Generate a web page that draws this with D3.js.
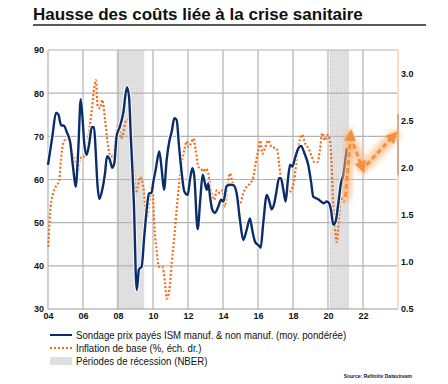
<!DOCTYPE html>
<html>
<head>
<meta charset="utf-8">
<script src="https://cdn.jsdelivr.net/npm/d3@7"></script>
<style>
  body { margin: 0; background: #fff; }
  svg { display: block; font-family: Arial, "Liberation Sans", sans-serif; }
</style>
</head>
<body>
<svg id="chart" width="448" height="384"></svg>
<script>
// ISM prix payés (moy. pondérée), échelle gauche
var ismDates = [2004.0, 2004.25, 2004.46, 2004.6, 2004.74, 2004.93, 2005.07, 2005.26, 2005.45, 2005.58, 2005.73, 2005.87, 2005.98, 2006.07, 2006.2, 2006.36, 2006.5, 2006.63, 2006.72, 2006.82, 2006.93, 2007.1, 2007.26, 2007.37, 2007.54, 2007.67, 2007.79, 2007.92, 2008.11, 2008.3, 2008.51, 2008.63, 2008.74, 2008.9, 2009.07, 2009.2, 2009.35, 2009.5, 2009.64, 2009.77, 2009.92, 2010.02, 2010.15, 2010.36, 2010.5, 2010.63, 2010.78, 2010.93, 2011.07, 2011.22, 2011.35, 2011.49, 2011.64, 2011.79, 2011.98, 2012.11, 2012.25, 2012.36, 2012.55, 2012.7, 2012.84, 2012.97, 2013.07, 2013.16, 2013.26, 2013.39, 2013.54, 2013.73, 2013.89, 2014.02, 2014.21, 2014.4, 2014.59, 2014.78, 2014.97, 2015.16, 2015.35, 2015.54, 2015.67, 2015.83, 2016.02, 2016.15, 2016.3, 2016.5, 2016.65, 2016.78, 2016.93, 2017.07, 2017.2, 2017.31, 2017.45, 2017.58, 2017.7, 2017.83, 2017.96, 2018.11, 2018.27, 2018.46, 2018.65, 2018.87, 2019.03, 2019.16, 2019.3, 2019.45, 2019.6, 2019.75, 2019.93, 2020.06, 2020.17, 2020.3, 2020.44, 2020.59, 2020.74, 2020.87, 2021.07];
var ismValues = [63.4, 70, 75.5, 75, 72.6, 72.4, 71, 68.8, 62.2, 58.3, 66.9, 78.6, 73.8, 68.4, 65.7, 68.4, 72.1, 72.1, 66.9, 59.2, 55.5, 57.6, 61.5, 65.4, 64.5, 62.7, 63.8, 70, 72.3, 75.4, 81.4, 79.2, 69.2, 55.3, 34.4, 39.2, 39.8, 46.8, 53, 56.8, 56.9, 59.5, 62.2, 66.5, 62.2, 57.6, 64.5, 68.8, 71.1, 74.2, 73.8, 67.6, 61.5, 57.2, 56.4, 59.9, 62.6, 60.7, 48.5, 55.3, 61.1, 59.1, 57.6, 59.1, 56, 53, 52.3, 53.7, 55.3, 54.9, 58.5, 58.8, 58.7, 56.8, 50.6, 46, 48.3, 51, 48.3, 45.6, 44.8, 44.2, 49.9, 56.4, 54.9, 53.1, 54.5, 57.6, 60.3, 60.3, 57.6, 54.9, 59.5, 63.4, 63, 64.9, 66.9, 67.8, 66.1, 63.4, 59.5, 56, 55.7, 55.4, 54.9, 54.5, 54.9, 54.5, 53, 49.5, 50.3, 54.5, 59.1, 61, 67.2];

// Inflation de base (%), échelle droite
var coreDates = [2004.02, 2004.15, 2004.3, 2004.5, 2004.63, 2004.74, 2004.87, 2005.07, 2005.26, 2005.45, 2005.58, 2005.7, 2005.83, 2006.02, 2006.2, 2006.34, 2006.5, 2006.65, 2006.74, 2006.84, 2006.97, 2007.1, 2007.26, 2007.41, 2007.58, 2007.73, 2007.87, 2008.02, 2008.17, 2008.3, 2008.44, 2008.59, 2008.74, 2008.9, 2009.01, 2009.13, 2009.26, 2009.45, 2009.64, 2009.83, 2009.96, 2010.07, 2010.2, 2010.34, 2010.53, 2010.69, 2010.78, 2010.93, 2011.07, 2011.22, 2011.35, 2011.49, 2011.64, 2011.79, 2011.92, 2012.02, 2012.17, 2012.3, 2012.44, 2012.59, 2012.74, 2012.87, 2013.01, 2013.16, 2013.31, 2013.5, 2013.64, 2013.83, 2013.96, 2014.11, 2014.27, 2014.4, 2014.53, 2014.69, 2014.84, 2014.97, 2015.16, 2015.35, 2015.54, 2015.73, 2015.87, 2016.02, 2016.13, 2016.25, 2016.4, 2016.59, 2016.78, 2016.97, 2017.1, 2017.2, 2017.35, 2017.5, 2017.7, 2017.89, 2018.07, 2018.2, 2018.34, 2018.53, 2018.69, 2018.87, 2019.07, 2019.22, 2019.41, 2019.54, 2019.67, 2019.83, 2019.98, 2020.11, 2020.21, 2020.3, 2020.4, 2020.5, 2020.63, 2020.74, 2020.87, 2021.01];
var coreValues = [1.16, 1.59, 1.73, 1.82, 1.85, 2.08, 2.26, 2.31, 2.26, 2.12, 2.05, 1.94, 2.1, 2.12, 2.12, 2.37, 2.61, 2.86, 2.93, 2.65, 2.63, 2.72, 2.51, 2.26, 2.12, 2.12, 2.33, 2.45, 2.31, 2.37, 2.49, 2.51, 2.33, 1.98, 1.73, 1.8, 1.9, 1.8, 1.46, 1.69, 1.83, 1.41, 1.13, 0.95, 0.95, 0.77, 0.61, 0.7, 0.99, 1.27, 1.55, 1.83, 2.05, 2.19, 2.28, 2.22, 2.26, 2.31, 2.19, 2.01, 1.99, 1.96, 1.99, 1.94, 1.76, 1.66, 1.76, 1.73, 1.76, 1.59, 1.83, 1.94, 1.85, 1.8, 1.69, 1.62, 1.73, 1.8, 1.83, 1.9, 2.05, 2.19, 2.29, 2.15, 2.21, 2.29, 2.22, 2.21, 2.19, 2.05, 1.83, 1.69, 1.73, 1.76, 1.87, 2.08, 2.26, 2.35, 2.26, 2.21, 2.12, 2.06, 2.06, 2.19, 2.37, 2.29, 2.35, 2.29, 2.01, 1.59, 1.34, 1.21, 1.48, 1.69, 1.64, 1.66];

// Périodes de récession (NBER)
var recessionStart = [2007.92, 2020.1];
var recessionEnd = [2009.5, 2021.2];

// flèches de projection (échelle droite)
var arrowFromX = [2021.0, 2021.45, 2022.2];
var arrowFromY = [1.69, 2.25, 2.03];
var arrowToX = [2021.3, 2021.98, 2023.8];
var arrowToY = [2.36, 1.99, 2.35];

var leftTicks = [30, 40, 50, 60, 70, 80, 90];
var rightTicks = [0.5, 1.0, 1.5, 2.0, 2.5, 3.0];
var yearTicks = [2004, 2006, 2008, 2010, 2012, 2014, 2016, 2018, 2020, 2022];

var titleText = "Hausse des coûts liée à la crise sanitaire";
var legendLabels = ["Sondage prix payés ISM manuf. & non manuf. (moy. pondérée)",
  "Inflation de base (%, éch. dr.)", "Périodes de récession (NBER)"];

var svg = d3.select("#chart");
var pLeft = 48, pRight = 398, pTop = 50, pBottom = 309;

var x = d3.scaleLinear().domain([2004, 2024]).range([pLeft, pRight]);
var yL = d3.scaleLinear().domain([30, 90]).range([pBottom, pTop]);
var yR = d3.scaleLinear().domain([0.5, 3.25]).range([pBottom, pTop]);

var defs = svg.append("defs");
defs.append("filter").attr("id", "glow")
  .attr("x", "-50%").attr("y", "-50%").attr("width", "200%").attr("height", "200%")
  .append("feGaussianBlur").attr("stdDeviation", 3);
var pat = defs.append("pattern").attr("id", "dots")
  .attr("width", 2).attr("height", 2).attr("patternUnits", "userSpaceOnUse");
pat.append("rect").attr("width", 2).attr("height", 2).attr("fill", "#e2e2e2");
pat.append("rect").attr("width", 1).attr("height", 1).attr("fill", "#d6d6d6");
defs.append("marker").attr("id", "head")
  .attr("viewBox", "0 0 10 10").attr("refX", 6).attr("refY", 5)
  .attr("markerWidth", 4).attr("markerHeight", 4).attr("orient", "auto")
  .append("path").attr("d", "M0,0L10,5L0,10z").attr("fill", "#f5903f");

// titre
svg.append("text").attr("x", 33).attr("y", 20)
  .attr("font-size", 17).attr("font-weight", "bold").attr("fill", "#111")
  .text(titleText);
svg.append("line").attr("x1", 33).attr("x2", 426).attr("y1", 25).attr("y2", 25)
  .attr("stroke", "#222").attr("stroke-width", 1.5);

// récessions
svg.selectAll("rect.rec").data(recessionStart).enter().append("rect")
  .attr("class", "rec")
  .attr("x", function (d) { return x(d); })
  .attr("y", pTop)
  .attr("width", function (d, i) { return x(recessionEnd[i]) - x(d); })
  .attr("height", pBottom - pTop)
  .attr("fill", "url(#dots)");

// grille
svg.append("g").selectAll("line").data(leftTicks.slice(1)).enter().append("line")
  .attr("x1", pLeft).attr("x2", pRight)
  .attr("y1", function (d) { return yL(d); }).attr("y2", function (d) { return yL(d); })
  .attr("stroke", "#b3b3b3").attr("stroke-width", 1.2);
svg.append("g").selectAll("line").data(yearTicks.slice(1)).enter().append("line")
  .attr("x1", function (d) { return x(d); }).attr("x2", function (d) { return x(d); })
  .attr("y1", pTop).attr("y2", pBottom)
  .attr("stroke", "#b3b3b3").attr("stroke-width", 1.2);
svg.append("line").attr("x1", pLeft).attr("x2", pRight).attr("y1", pBottom).attr("y2", pBottom)
  .attr("stroke", "#9a9a9a").attr("stroke-width", 1.2);
svg.append("line").attr("x1", pLeft).attr("x2", pLeft).attr("y1", pTop).attr("y2", pBottom)
  .attr("stroke", "#b9c6d3").attr("stroke-width", 1.5);

// axe droit (pêche)
svg.append("line").attr("x1", pRight).attr("x2", pRight).attr("y1", pTop).attr("y2", pBottom)
  .attr("stroke", "#fcdcc4").attr("stroke-width", 2);
svg.append("line").attr("x1", pRight).attr("x2", pRight).attr("y1", yR(2.57)).attr("y2", yR(1.92))
  .attr("stroke", "#d9ab8c").attr("stroke-width", 2);

// axes
var fmtYear = function (d) { return d3.format("02d")(d % 100); };
var axL = svg.append("g").attr("transform", "translate(" + pLeft + ",0)")
  .call(d3.axisLeft(yL).tickValues(leftTicks).tickSize(0).tickPadding(4));
var axR = svg.append("g").attr("transform", "translate(" + pRight + ",0)")
  .call(d3.axisRight(yR).tickValues(rightTicks).tickSize(0).tickPadding(3).tickFormat(d3.format(".1f")));
var axB = svg.append("g").attr("transform", "translate(0," + pBottom + ")")
  .call(d3.axisBottom(x).tickValues(yearTicks).tickSize(0).tickPadding(4).tickFormat(fmtYear));
[axL, axR, axB].forEach(function (a) {
  a.select(".domain").remove();
  a.selectAll("text").attr("font-size", 9).attr("font-weight", "bold")
    .attr("fill", "#111").attr("font-family", "Arial, 'Liberation Sans', sans-serif");
});

// séries
var ismLine = d3.line()
  .x(function (d, i) { return x(ismDates[i]); })
  .y(function (d) { return yL(d); })
  .curve(d3.curveMonotoneX);
var coreLine = d3.line()
  .x(function (d, i) { return x(coreDates[i]); })
  .y(function (d) { return yR(d); })
  .curve(d3.curveMonotoneX);

svg.append("path").datum(coreValues).attr("d", coreLine)
  .attr("fill", "none").attr("stroke", "#f36c1c").attr("stroke-width", 2.2)
  .attr("stroke-dasharray", "2,2");
svg.append("path").datum(ismValues).attr("d", ismLine)
  .attr("fill", "none").attr("stroke", "#fff").attr("stroke-width", 4.4).attr("opacity", 0.8);
svg.append("path").datum(ismValues).attr("d", ismLine)
  .attr("fill", "none").attr("stroke", "#0b2d6b").attr("stroke-width", 2.4);

// flèches
var arrows = svg.append("g");
arrows.selectAll("line.glow").data(arrowFromX).enter().append("line")
  .attr("class", "glow")
  .attr("x1", function (d) { return x(d); }).attr("y1", function (d, i) { return yR(arrowFromY[i]); })
  .attr("x2", function (d, i) { return x(arrowToX[i]); }).attr("y2", function (d, i) { return yR(arrowToY[i]); })
  .attr("stroke", "#f9b57e").attr("stroke-width", 10).attr("stroke-linecap", "round")
  .attr("opacity", 0.8).attr("filter", "url(#glow)");
arrows.selectAll("line.arr").data(arrowFromX).enter().append("line")
  .attr("class", "arr")
  .attr("x1", function (d) { return x(d); }).attr("y1", function (d, i) { return yR(arrowFromY[i]); })
  .attr("x2", function (d, i) { return x(arrowToX[i]); }).attr("y2", function (d, i) { return yR(arrowToY[i]); })
  .attr("stroke", "#f5903f").attr("stroke-width", 3)
  .attr("stroke-dasharray", "5,3").attr("marker-end", "url(#head)");

// légende
var lg = svg.append("g").attr("font-size", 10.5).attr("fill", "#111");
var ly = [335, 348, 361];
lg.append("line").attr("x1", 50).attr("x2", 72).attr("y1", ly[0]).attr("y2", ly[0])
  .attr("stroke", "#0b2d6b").attr("stroke-width", 2);
lg.append("line").attr("x1", 50).attr("x2", 72).attr("y1", ly[1]).attr("y2", ly[1])
  .attr("stroke", "#f36c1c").attr("stroke-width", 2).attr("stroke-dasharray", "2,2");
lg.append("rect").attr("x", 50).attr("y", ly[2] - 4).attr("width", 22).attr("height", 8)
  .attr("fill", "url(#dots)");
lg.selectAll("text").data(legendLabels).enter().append("text")
  .attr("transform", function (d, i) { return "translate(76," + (ly[i] + 4) + ") scale(0.92,1)"; })
  .text(function (d) { return d; });

svg.append("text").attr("x", 412).attr("y", 378).attr("text-anchor", "end")
  .attr("font-size", 5).attr("font-weight", "bold").attr("fill", "#222")
  .text("Source: Refinitiv Datastream");
</script>
</body>
</html>
